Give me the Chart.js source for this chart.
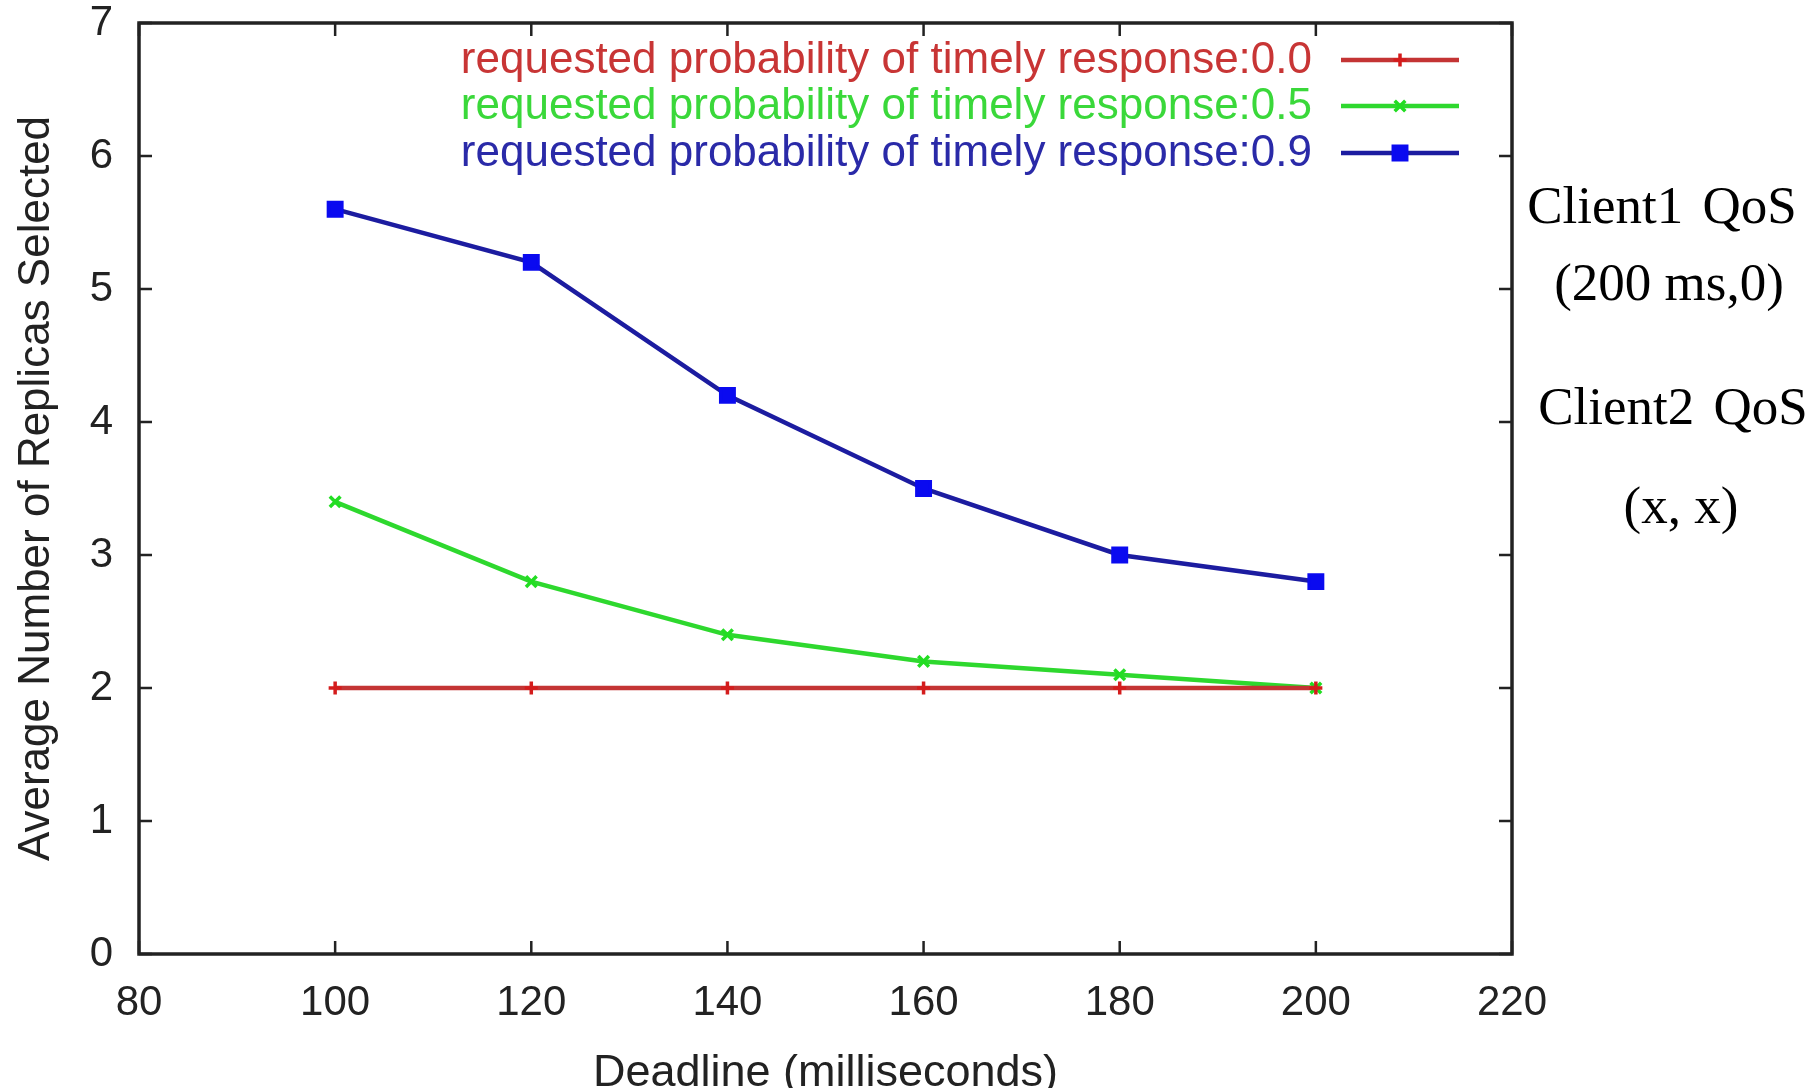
<!DOCTYPE html>
<html>
<head>
<meta charset="utf-8">
<script src="https://cdn.jsdelivr.net/npm/chart.js@4"></script>
<style>
  html, body { margin: 0; padding: 0; background: #fff; overflow: hidden; }
  #wrap { position: relative; width: 1820px; height: 1088px; overflow: hidden; }
  #c { position: absolute; left: 0; top: 0; }
  .note { position: absolute; font-family: "Liberation Serif", "Times New Roman", serif; font-size: 53px; color: #000; white-space: nowrap; line-height: 1; transform: translate(-50%, -50%); }
</style>
</head>
<body>
<div id="wrap">
  <canvas id="c" width="1820" height="1096"></canvas>
  <div class="note" style="left:1662px; top:205px; word-spacing:6px;">Client1 QoS</div>
  <div class="note" style="left:1669px; top:282px;">(200 ms,0)</div>
  <div class="note" style="left:1673px; top:406px; word-spacing:6px;">Client2 QoS</div>
  <div class="note" style="left:1681px; top:505px;">(x, x)</div>
</div>
<script>
const deadlines = [100, 120, 140, 160, 180, 200];
const seriesLabels = [
  "requested probability of timely response:0.0",
  "requested probability of timely response:0.5",
  "requested probability of timely response:0.9"
];
const prob00 = [2.0, 2.0, 2.0, 2.0, 2.0, 2.0];
const prob05 = [3.4, 2.8, 2.4, 2.2, 2.1, 2.0];
const prob09 = [5.6, 5.2, 4.2, 3.5, 3.0, 2.8];
const xTicks = [80, 100, 120, 140, 160, 180, 200, 220];
const yTicks = [0, 1, 2, 3, 4, 5, 6, 7];

const lineColors = ["#c43434", "#2ed82e", "#1c1ca0"];
const pointColors = ["#d41c1c", "#22dd22", "#0a0af0"];
const textColors = ["#c83535", "#3ad83a", "#2a2aa8"];
const pointStyles = ["cross", "crossRot", "rect"];
const pointSizes = [6.5, 7.5, 9.5];
const seriesValues = [prob00, prob05, prob09];

const FONT = '"Liberation Sans", Arial, Helvetica, sans-serif';

const datasets = seriesValues.map((vals, i) => ({
  label: seriesLabels[i],
  data: deadlines.map((d, k) => ({ x: d, y: vals[k] })),
  borderColor: lineColors[i],
  backgroundColor: pointColors[i],
  pointBorderColor: pointColors[i],
  pointBackgroundColor: pointColors[i],
  pointStyle: pointStyles[i],
  pointRadius: pointSizes[i],
  pointBorderWidth: 3.5,
  borderWidth: 4.5,
  tension: 0,
  fill: false
}));

const boxPlugin = {
  id: 'gnuplotBox',
  afterDatasetsDraw(chart) {
    const ctx = chart.ctx;
    const a = chart.chartArea;
    const xs = chart.scales.x, ys = chart.scales.y;
    ctx.save();
    ctx.strokeStyle = '#222';
    ctx.lineWidth = 3.5;
    ctx.strokeRect(a.left, a.top, a.right - a.left, a.bottom - a.top);
    ctx.lineWidth = 2.5;
    const tl = 13;
    xTicks.forEach(v => {
      const px = xs.getPixelForValue(v);
      ctx.beginPath();
      ctx.moveTo(px, a.bottom); ctx.lineTo(px, a.bottom - tl);
      ctx.moveTo(px, a.top); ctx.lineTo(px, a.top + tl);
      ctx.stroke();
    });
    yTicks.forEach(v => {
      const py = ys.getPixelForValue(v);
      ctx.beginPath();
      ctx.moveTo(a.left, py); ctx.lineTo(a.left + tl, py);
      ctx.moveTo(a.right, py); ctx.lineTo(a.right - tl, py);
      ctx.stroke();
    });
    ctx.restore();
  }
};

const legendPlugin = {
  id: 'gnuplotLegend',
  afterDatasetsDraw(chart) {
    const ctx = chart.ctx;
    const rowsY = [60, 106, 153];
    const textRight = 1312, lineL = 1341, lineR = 1459;
    ctx.save();
    ctx.font = '44px ' + FONT;
    ctx.textAlign = 'right';
    ctx.textBaseline = 'middle';
    chart.data.datasets.forEach((ds, i) => {
      const y = rowsY[i];
      ctx.fillStyle = textColors[i];
      ctx.fillText(ds.label, textRight, y + 1);
      ctx.strokeStyle = ds.borderColor;
      ctx.lineWidth = 4.5;
      ctx.beginPath(); ctx.moveTo(lineL, y); ctx.lineTo(lineR, y); ctx.stroke();
      ctx.fillStyle = ds.pointBackgroundColor;
      ctx.strokeStyle = ds.pointBorderColor;
      ctx.lineWidth = 3.5;
      Chart.helpers.drawPoint(ctx, {
        pointStyle: ds.pointStyle, radius: ds.pointRadius, borderWidth: 3.5, rotation: 0
      }, (lineL + lineR) / 2, y);
    });
    ctx.restore();
  }
};

new Chart(document.getElementById('c'), {
  type: 'line',
  data: { datasets },
  plugins: [boxPlugin, legendPlugin],
  options: {
    responsive: false,
    animation: false,
    layout: { padding: { left: 0, right: 308, top: 0, bottom: 0 } },
    plugins: { legend: { display: false }, tooltip: { enabled: false } },
    scales: {
      x: {
        type: 'linear',
        min: 80, max: 220,
        afterBuildTicks: s => { s.ticks = xTicks.map(v => ({ value: v })); },
        afterFit: s => { s.height = 1096 - 954; s.paddingLeft = 0; s.paddingRight = 0; },
        grid: { display: false, drawTicks: false },
        border: { display: false },
        ticks: { color: '#222', padding: 24, font: { family: FONT, size: 42 } },
        title: {
          display: true, text: 'Deadline (milliseconds)', color: '#222',
          font: { family: FONT, size: 45, lineHeight: 1 }, padding: { top: 0, bottom: 0 }
        }
      },
      y: {
        type: 'linear',
        min: 0, max: 7,
        afterBuildTicks: s => { s.ticks = yTicks.map(v => ({ value: v })); },
        afterFit: s => { s.width = 139; s.paddingTop = 23; s.paddingBottom = 0; },
        grid: { display: false, drawTicks: false },
        border: { display: false },
        ticks: { color: '#222', padding: 26, font: { family: FONT, size: 42, lineHeight: 1.1 } },
        title: {
          display: true, text: 'Average Number of Replicas Selected', color: '#222',
          font: { family: FONT, size: 44, lineHeight: 1.2 }, padding: { top: 10, bottom: 0 }
        }
      }
    }
  }
});
</script>
</body>
</html>
